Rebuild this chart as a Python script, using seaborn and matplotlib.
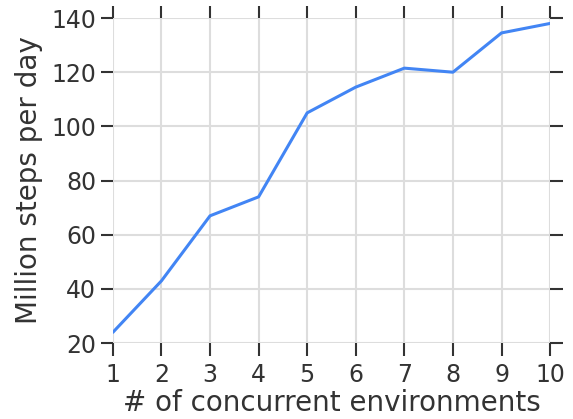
import matplotlib
matplotlib.use("Agg")
import matplotlib.pyplot as plt
import seaborn as sns
import pandas as pd

envs = [1, 2, 3, 4, 5, 6, 7, 8, 9, 10]
steps = [24, 43, 67, 74, 105, 114.5, 121.5, 120, 134.5, 138]

sns.set_theme(style="whitegrid")
plt.rcParams['font.family'] = ['DejaVu Sans']

df = pd.DataFrame({"env": envs, "steps": steps})
fig = plt.figure(figsize=(5.73, 4.19), dpi=100)
ax = fig.add_axes([0.197, 0.181, 0.763, 0.776])
sns.lineplot(data=df, x="env", y="steps", ax=ax, color="#4285F4", linewidth=2.2)
ax.set_xlim(1, 10)
ax.set_ylim(20, 140)
ax.set_xticks(envs)
ax.set_yticks([20, 40, 60, 80, 100, 120, 140])
ax.grid(True, color="#dddddd", linewidth=1.5)
for s in ax.spines.values():
    s.set_visible(False)
ax.tick_params(axis="both", which="both", direction="out", length=9, width=1.5,
               color="#333333", labelsize=17, labelcolor="#333333",
               top=True, right=True, bottom=True, left=True,
               labeltop=False, labelright=False, pad=3)
ax.tick_params(axis="x", pad=5)
ax.set_xlabel("# of concurrent environments", fontsize=20, color="#333333", labelpad=2)
ax.set_ylabel("Million steps per day", fontsize=20, color="#333333", labelpad=6)
fig.savefig("out.png", dpi=100)
